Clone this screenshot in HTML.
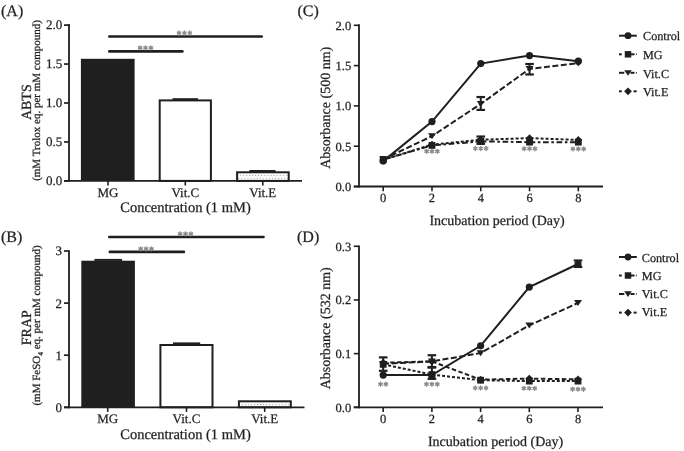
<!DOCTYPE html>
<html><head><meta charset="utf-8"><style>
html,body{margin:0;padding:0;background:#fff;}
svg{display:block;will-change:transform;}
text{font-family:"Liberation Serif",serif;stroke:#1f1f1f;stroke-width:0.25px;paint-order:stroke;text-rendering:geometricPrecision;}
</style></head><body>
<svg width="684" height="451" viewBox="0 0 684 451">
<defs><pattern id="dots0" x="239.8" y="174.9" width="3.07" height="6.2" patternUnits="userSpaceOnUse"><rect width="3.07" height="6.2" fill="#fff"/><rect x="0" y="0" width="1" height="1" fill="#8c8c8c"/><rect x="1.53" y="3.1" width="1" height="1" fill="#8c8c8c"/></pattern><pattern id="dots1" x="241.7" y="398.0" width="3.07" height="6.2" patternUnits="userSpaceOnUse"><rect width="3.07" height="6.2" fill="#fff"/><rect x="0" y="0" width="1" height="1" fill="#8c8c8c"/><rect x="1.53" y="3.1" width="1" height="1" fill="#8c8c8c"/></pattern></defs>
<rect width="684" height="451" fill="#fff"/>
<line x1="64.00" y1="180.90" x2="69.00" y2="180.90" stroke="#1f1f1f" stroke-width="1.7" stroke-linecap="butt"/>
<text x="62.30" y="184.70" font-size="13" text-anchor="end" fill="#1f1f1f">0.0</text>
<line x1="64.00" y1="141.95" x2="69.00" y2="141.95" stroke="#1f1f1f" stroke-width="1.7" stroke-linecap="butt"/>
<text x="62.30" y="145.75" font-size="13" text-anchor="end" fill="#1f1f1f">0.5</text>
<line x1="64.00" y1="103.00" x2="69.00" y2="103.00" stroke="#1f1f1f" stroke-width="1.7" stroke-linecap="butt"/>
<text x="62.30" y="106.80" font-size="13" text-anchor="end" fill="#1f1f1f">1.0</text>
<line x1="64.00" y1="64.05" x2="69.00" y2="64.05" stroke="#1f1f1f" stroke-width="1.7" stroke-linecap="butt"/>
<text x="62.30" y="67.85" font-size="13" text-anchor="end" fill="#1f1f1f">1.5</text>
<line x1="64.00" y1="25.10" x2="69.00" y2="25.10" stroke="#1f1f1f" stroke-width="1.7" stroke-linecap="butt"/>
<text x="62.30" y="28.90" font-size="13" text-anchor="end" fill="#1f1f1f">2.0</text>
<rect x="80.90" y="58.80" width="53.70" height="122.10" fill="#1f1f1f"/>
<rect x="159.70" y="100.40" width="51.20" height="80.50" fill="#fff" stroke="#1f1f1f" stroke-width="2"/>
<line x1="172.50" y1="99.20" x2="198.00" y2="99.20" stroke="#1f1f1f" stroke-width="2.0" stroke-linecap="butt"/>
<rect x="237.10" y="172.30" width="51.60" height="8.60" fill="url(#dots0)" stroke="#1f1f1f" stroke-width="2"/>
<line x1="249.40" y1="171.00" x2="275.50" y2="171.00" stroke="#1f1f1f" stroke-width="2.0" stroke-linecap="butt"/>
<line x1="69.00" y1="24.00" x2="69.00" y2="181.80" stroke="#1f1f1f" stroke-width="1.8" stroke-linecap="butt"/>
<line x1="64.00" y1="180.90" x2="302.00" y2="180.90" stroke="#1f1f1f" stroke-width="1.8" stroke-linecap="butt"/>
<line x1="108.00" y1="180.90" x2="108.00" y2="185.50" stroke="#1f1f1f" stroke-width="1.6" stroke-linecap="butt"/>
<text x="108.00" y="197.30" font-size="13" text-anchor="middle" fill="#1f1f1f">MG</text>
<line x1="185.30" y1="180.90" x2="185.30" y2="185.50" stroke="#1f1f1f" stroke-width="1.6" stroke-linecap="butt"/>
<text x="185.30" y="197.30" font-size="13" text-anchor="middle" fill="#1f1f1f">Vit.C</text>
<line x1="262.80" y1="180.90" x2="262.80" y2="185.50" stroke="#1f1f1f" stroke-width="1.6" stroke-linecap="butt"/>
<text x="262.80" y="197.30" font-size="13" text-anchor="middle" fill="#1f1f1f">Vit.E</text>
<text x="185.50" y="212.30" font-size="14.5" text-anchor="middle" fill="#1f1f1f">Concentration (1 mM)</text>
<line x1="109.30" y1="36.50" x2="261.70" y2="36.50" stroke="#1f1f1f" stroke-width="2.6" stroke-linecap="round"/>
<line x1="179.00" y1="31.00" x2="179.00" y2="35.00" stroke="#8a8a8a" stroke-width="1.35" stroke-linecap="round"/>
<line x1="177.27" y1="32.00" x2="180.73" y2="34.00" stroke="#8a8a8a" stroke-width="1.35" stroke-linecap="round"/>
<line x1="177.27" y1="34.00" x2="180.73" y2="32.00" stroke="#8a8a8a" stroke-width="1.35" stroke-linecap="round"/>
<line x1="184.40" y1="31.00" x2="184.40" y2="35.00" stroke="#8a8a8a" stroke-width="1.35" stroke-linecap="round"/>
<line x1="182.67" y1="32.00" x2="186.13" y2="34.00" stroke="#8a8a8a" stroke-width="1.35" stroke-linecap="round"/>
<line x1="182.67" y1="34.00" x2="186.13" y2="32.00" stroke="#8a8a8a" stroke-width="1.35" stroke-linecap="round"/>
<line x1="189.80" y1="31.00" x2="189.80" y2="35.00" stroke="#8a8a8a" stroke-width="1.35" stroke-linecap="round"/>
<line x1="188.07" y1="32.00" x2="191.53" y2="34.00" stroke="#8a8a8a" stroke-width="1.35" stroke-linecap="round"/>
<line x1="188.07" y1="34.00" x2="191.53" y2="32.00" stroke="#8a8a8a" stroke-width="1.35" stroke-linecap="round"/>
<line x1="109.30" y1="51.40" x2="182.40" y2="51.40" stroke="#1f1f1f" stroke-width="2.6" stroke-linecap="round"/>
<line x1="140.10" y1="45.80" x2="140.10" y2="49.80" stroke="#8a8a8a" stroke-width="1.35" stroke-linecap="round"/>
<line x1="138.37" y1="46.80" x2="141.83" y2="48.80" stroke="#8a8a8a" stroke-width="1.35" stroke-linecap="round"/>
<line x1="138.37" y1="48.80" x2="141.83" y2="46.80" stroke="#8a8a8a" stroke-width="1.35" stroke-linecap="round"/>
<line x1="145.50" y1="45.80" x2="145.50" y2="49.80" stroke="#8a8a8a" stroke-width="1.35" stroke-linecap="round"/>
<line x1="143.77" y1="46.80" x2="147.23" y2="48.80" stroke="#8a8a8a" stroke-width="1.35" stroke-linecap="round"/>
<line x1="143.77" y1="48.80" x2="147.23" y2="46.80" stroke="#8a8a8a" stroke-width="1.35" stroke-linecap="round"/>
<line x1="150.90" y1="45.80" x2="150.90" y2="49.80" stroke="#8a8a8a" stroke-width="1.35" stroke-linecap="round"/>
<line x1="149.17" y1="46.80" x2="152.63" y2="48.80" stroke="#8a8a8a" stroke-width="1.35" stroke-linecap="round"/>
<line x1="149.17" y1="48.80" x2="152.63" y2="46.80" stroke="#8a8a8a" stroke-width="1.35" stroke-linecap="round"/>
<text x="1.00" y="15.50" font-size="16" text-anchor="start" fill="#1f1f1f">(A)</text>
<text x="31.50" y="102.20" font-size="14" text-anchor="middle" fill="#1f1f1f" transform="rotate(-90 31.50 102.20)">ABTS</text>
<text x="40.20" y="100.50" font-size="11" text-anchor="middle" fill="#1f1f1f" transform="rotate(-90 40.20 100.50)">(mM Trolox eq. per mM compound)</text>
<line x1="64.00" y1="407.30" x2="69.00" y2="407.30" stroke="#1f1f1f" stroke-width="1.7" stroke-linecap="butt"/>
<text x="62.00" y="411.70" font-size="13" text-anchor="end" fill="#1f1f1f">0</text>
<line x1="64.00" y1="355.20" x2="69.00" y2="355.20" stroke="#1f1f1f" stroke-width="1.7" stroke-linecap="butt"/>
<text x="62.00" y="359.60" font-size="13" text-anchor="end" fill="#1f1f1f">1</text>
<line x1="64.00" y1="303.10" x2="69.00" y2="303.10" stroke="#1f1f1f" stroke-width="1.7" stroke-linecap="butt"/>
<text x="62.00" y="307.50" font-size="13" text-anchor="end" fill="#1f1f1f">2</text>
<line x1="64.00" y1="251.00" x2="69.00" y2="251.00" stroke="#1f1f1f" stroke-width="1.7" stroke-linecap="butt"/>
<text x="62.00" y="255.40" font-size="13" text-anchor="end" fill="#1f1f1f">3</text>
<rect x="81.30" y="260.70" width="53.60" height="146.60" fill="#1f1f1f"/>
<line x1="94.40" y1="259.90" x2="122.10" y2="259.90" stroke="#1f1f1f" stroke-width="2.0" stroke-linecap="butt"/>
<rect x="160.40" y="345.00" width="52.10" height="62.30" fill="#fff" stroke="#1f1f1f" stroke-width="2"/>
<line x1="173.00" y1="343.40" x2="200.20" y2="343.40" stroke="#1f1f1f" stroke-width="2.0" stroke-linecap="butt"/>
<rect x="238.90" y="401.30" width="51.90" height="6.00" fill="url(#dots1)" stroke="#1f1f1f" stroke-width="2"/>
<line x1="69.00" y1="250.20" x2="69.00" y2="408.20" stroke="#1f1f1f" stroke-width="1.8" stroke-linecap="butt"/>
<line x1="64.00" y1="407.30" x2="304.50" y2="407.30" stroke="#1f1f1f" stroke-width="1.8" stroke-linecap="butt"/>
<line x1="107.70" y1="407.30" x2="107.70" y2="411.90" stroke="#1f1f1f" stroke-width="1.6" stroke-linecap="butt"/>
<text x="107.70" y="422.50" font-size="13" text-anchor="middle" fill="#1f1f1f">MG</text>
<line x1="186.50" y1="407.30" x2="186.50" y2="411.90" stroke="#1f1f1f" stroke-width="1.6" stroke-linecap="butt"/>
<text x="186.50" y="422.50" font-size="13" text-anchor="middle" fill="#1f1f1f">Vit.C</text>
<line x1="264.70" y1="407.30" x2="264.70" y2="411.90" stroke="#1f1f1f" stroke-width="1.6" stroke-linecap="butt"/>
<text x="264.70" y="422.50" font-size="13" text-anchor="middle" fill="#1f1f1f">Vit.E</text>
<text x="185.50" y="438.60" font-size="14.5" text-anchor="middle" fill="#1f1f1f">Concentration (1 mM)</text>
<line x1="109.30" y1="237.00" x2="263.50" y2="237.00" stroke="#1f1f1f" stroke-width="2.6" stroke-linecap="round"/>
<line x1="180.10" y1="231.80" x2="180.10" y2="235.80" stroke="#8a8a8a" stroke-width="1.35" stroke-linecap="round"/>
<line x1="178.37" y1="232.80" x2="181.83" y2="234.80" stroke="#8a8a8a" stroke-width="1.35" stroke-linecap="round"/>
<line x1="178.37" y1="234.80" x2="181.83" y2="232.80" stroke="#8a8a8a" stroke-width="1.35" stroke-linecap="round"/>
<line x1="185.50" y1="231.80" x2="185.50" y2="235.80" stroke="#8a8a8a" stroke-width="1.35" stroke-linecap="round"/>
<line x1="183.77" y1="232.80" x2="187.23" y2="234.80" stroke="#8a8a8a" stroke-width="1.35" stroke-linecap="round"/>
<line x1="183.77" y1="234.80" x2="187.23" y2="232.80" stroke="#8a8a8a" stroke-width="1.35" stroke-linecap="round"/>
<line x1="190.90" y1="231.80" x2="190.90" y2="235.80" stroke="#8a8a8a" stroke-width="1.35" stroke-linecap="round"/>
<line x1="189.17" y1="232.80" x2="192.63" y2="234.80" stroke="#8a8a8a" stroke-width="1.35" stroke-linecap="round"/>
<line x1="189.17" y1="234.80" x2="192.63" y2="232.80" stroke="#8a8a8a" stroke-width="1.35" stroke-linecap="round"/>
<line x1="109.80" y1="251.90" x2="183.90" y2="251.90" stroke="#1f1f1f" stroke-width="2.6" stroke-linecap="round"/>
<line x1="140.70" y1="246.80" x2="140.70" y2="250.80" stroke="#8a8a8a" stroke-width="1.35" stroke-linecap="round"/>
<line x1="138.97" y1="247.80" x2="142.43" y2="249.80" stroke="#8a8a8a" stroke-width="1.35" stroke-linecap="round"/>
<line x1="138.97" y1="249.80" x2="142.43" y2="247.80" stroke="#8a8a8a" stroke-width="1.35" stroke-linecap="round"/>
<line x1="146.10" y1="246.80" x2="146.10" y2="250.80" stroke="#8a8a8a" stroke-width="1.35" stroke-linecap="round"/>
<line x1="144.37" y1="247.80" x2="147.83" y2="249.80" stroke="#8a8a8a" stroke-width="1.35" stroke-linecap="round"/>
<line x1="144.37" y1="249.80" x2="147.83" y2="247.80" stroke="#8a8a8a" stroke-width="1.35" stroke-linecap="round"/>
<line x1="151.50" y1="246.80" x2="151.50" y2="250.80" stroke="#8a8a8a" stroke-width="1.35" stroke-linecap="round"/>
<line x1="149.77" y1="247.80" x2="153.23" y2="249.80" stroke="#8a8a8a" stroke-width="1.35" stroke-linecap="round"/>
<line x1="149.77" y1="249.80" x2="153.23" y2="247.80" stroke="#8a8a8a" stroke-width="1.35" stroke-linecap="round"/>
<text x="1.00" y="241.60" font-size="16" text-anchor="start" fill="#1f1f1f">(B)</text>
<text x="31.50" y="327.70" font-size="14" text-anchor="middle" fill="#1f1f1f" transform="rotate(-90 31.50 327.70)">FRAP</text>
<text x="40.20" y="325.50" font-size="11" text-anchor="middle" fill="#1f1f1f" transform="rotate(-90 40.20 325.50)">(mM FeSO<tspan font-size="7.5" dy="2.5">4</tspan><tspan dy="-2.5"> eq. per mM compound)</tspan></text>
<line x1="353.80" y1="186.50" x2="359.00" y2="186.50" stroke="#1f1f1f" stroke-width="1.6" stroke-linecap="butt"/>
<text x="351.20" y="190.90" font-size="12.5" text-anchor="end" fill="#1f1f1f">0.0</text>
<line x1="353.80" y1="146.20" x2="359.00" y2="146.20" stroke="#1f1f1f" stroke-width="1.6" stroke-linecap="butt"/>
<text x="351.20" y="150.60" font-size="12.5" text-anchor="end" fill="#1f1f1f">0.5</text>
<line x1="353.80" y1="105.90" x2="359.00" y2="105.90" stroke="#1f1f1f" stroke-width="1.6" stroke-linecap="butt"/>
<text x="351.20" y="110.30" font-size="12.5" text-anchor="end" fill="#1f1f1f">1.0</text>
<line x1="353.80" y1="65.60" x2="359.00" y2="65.60" stroke="#1f1f1f" stroke-width="1.6" stroke-linecap="butt"/>
<text x="351.20" y="70.00" font-size="12.5" text-anchor="end" fill="#1f1f1f">1.5</text>
<line x1="353.80" y1="25.30" x2="359.00" y2="25.30" stroke="#1f1f1f" stroke-width="1.6" stroke-linecap="butt"/>
<text x="351.20" y="29.70" font-size="12.5" text-anchor="end" fill="#1f1f1f">2.0</text>
<polyline points="383.20,161.11 431.98,121.62 480.76,63.59 529.54,55.53 578.32,61.17" fill="none" stroke="#1f1f1f" stroke-width="2"/>
<polyline points="383.20,159.50 431.98,145.39 480.76,141.36 529.54,142.17 578.32,142.17" fill="none" stroke="#1f1f1f" stroke-width="2" stroke-dasharray="5.7 2.6 2.6 2.6"/>
<polyline points="383.20,159.26 431.98,136.12 480.76,103.89 529.54,68.82 578.32,63.18" fill="none" stroke="#1f1f1f" stroke-width="2" stroke-dasharray="6 2.5"/>
<polyline points="383.20,159.90 431.98,144.59 480.76,139.75 529.54,138.14 578.32,139.91" fill="none" stroke="#1f1f1f" stroke-width="2" stroke-dasharray="3 2"/>
<line x1="480.76" y1="97.03" x2="480.76" y2="109.93" stroke="#1f1f1f" stroke-width="2.0" stroke-linecap="butt"/>
<line x1="476.46" y1="97.03" x2="485.06" y2="97.03" stroke="#1f1f1f" stroke-width="2.2" stroke-linecap="butt"/>
<line x1="476.46" y1="109.93" x2="485.06" y2="109.93" stroke="#1f1f1f" stroke-width="2.2" stroke-linecap="butt"/>
<line x1="529.54" y1="63.99" x2="529.54" y2="74.47" stroke="#1f1f1f" stroke-width="2.0" stroke-linecap="butt"/>
<line x1="525.24" y1="63.99" x2="533.84" y2="63.99" stroke="#1f1f1f" stroke-width="2.2" stroke-linecap="butt"/>
<line x1="525.24" y1="74.47" x2="533.84" y2="74.47" stroke="#1f1f1f" stroke-width="2.2" stroke-linecap="butt"/>
<line x1="480.76" y1="136.53" x2="480.76" y2="143.78" stroke="#1f1f1f" stroke-width="2.0" stroke-linecap="butt"/>
<line x1="476.46" y1="136.53" x2="485.06" y2="136.53" stroke="#1f1f1f" stroke-width="2.2" stroke-linecap="butt"/>
<line x1="476.46" y1="143.78" x2="485.06" y2="143.78" stroke="#1f1f1f" stroke-width="2.2" stroke-linecap="butt"/>
<circle cx="383.20" cy="161.11" r="3.60" fill="#1f1f1f"/>
<circle cx="431.98" cy="121.62" r="3.60" fill="#1f1f1f"/>
<circle cx="480.76" cy="63.59" r="3.60" fill="#1f1f1f"/>
<circle cx="529.54" cy="55.53" r="3.60" fill="#1f1f1f"/>
<circle cx="578.32" cy="61.17" r="3.60" fill="#1f1f1f"/>
<rect x="379.80" y="156.10" width="6.80" height="6.80" fill="#1f1f1f"/>
<rect x="428.58" y="141.99" width="6.80" height="6.80" fill="#1f1f1f"/>
<rect x="477.36" y="137.96" width="6.80" height="6.80" fill="#1f1f1f"/>
<rect x="526.14" y="138.77" width="6.80" height="6.80" fill="#1f1f1f"/>
<rect x="574.92" y="138.77" width="6.80" height="6.80" fill="#1f1f1f"/>
<path d="M379.20,156.46 L387.20,156.46 L383.20,162.46 Z" fill="#1f1f1f"/>
<path d="M427.98,133.32 L435.98,133.32 L431.98,139.32 Z" fill="#1f1f1f"/>
<path d="M476.76,101.09 L484.76,101.09 L480.76,107.09 Z" fill="#1f1f1f"/>
<path d="M525.54,66.02 L533.54,66.02 L529.54,72.02 Z" fill="#1f1f1f"/>
<path d="M574.32,60.38 L582.32,60.38 L578.32,66.38 Z" fill="#1f1f1f"/>
<path d="M383.20,156.00 L387.10,159.90 L383.20,163.80 L379.30,159.90 Z" fill="#1f1f1f"/>
<path d="M431.98,140.69 L435.88,144.59 L431.98,148.49 L428.08,144.59 Z" fill="#1f1f1f"/>
<path d="M480.76,135.85 L484.66,139.75 L480.76,143.65 L476.86,139.75 Z" fill="#1f1f1f"/>
<path d="M529.54,134.24 L533.44,138.14 L529.54,142.04 L525.64,138.14 Z" fill="#1f1f1f"/>
<path d="M578.32,136.01 L582.22,139.91 L578.32,143.81 L574.42,139.91 Z" fill="#1f1f1f"/>
<line x1="359.00" y1="24.20" x2="359.00" y2="187.40" stroke="#1f1f1f" stroke-width="1.8" stroke-linecap="butt"/>
<line x1="353.80" y1="186.50" x2="603.00" y2="186.50" stroke="#1f1f1f" stroke-width="1.8" stroke-linecap="butt"/>
<line x1="383.20" y1="186.50" x2="383.20" y2="191.30" stroke="#1f1f1f" stroke-width="1.6" stroke-linecap="butt"/>
<text x="383.20" y="201.80" font-size="12.5" text-anchor="middle" fill="#1f1f1f">0</text>
<line x1="431.98" y1="186.50" x2="431.98" y2="191.30" stroke="#1f1f1f" stroke-width="1.6" stroke-linecap="butt"/>
<text x="431.98" y="201.80" font-size="12.5" text-anchor="middle" fill="#1f1f1f">2</text>
<line x1="480.76" y1="186.50" x2="480.76" y2="191.30" stroke="#1f1f1f" stroke-width="1.6" stroke-linecap="butt"/>
<text x="480.76" y="201.80" font-size="12.5" text-anchor="middle" fill="#1f1f1f">4</text>
<line x1="529.54" y1="186.50" x2="529.54" y2="191.30" stroke="#1f1f1f" stroke-width="1.6" stroke-linecap="butt"/>
<text x="529.54" y="201.80" font-size="12.5" text-anchor="middle" fill="#1f1f1f">6</text>
<line x1="578.32" y1="186.50" x2="578.32" y2="191.30" stroke="#1f1f1f" stroke-width="1.6" stroke-linecap="butt"/>
<text x="578.32" y="201.80" font-size="12.5" text-anchor="middle" fill="#1f1f1f">8</text>
<text x="497.10" y="224.90" font-size="14" text-anchor="middle" fill="#1f1f1f">Incubation period (Day)</text>
<text x="330.00" y="107.80" font-size="14" text-anchor="middle" fill="#1f1f1f" transform="rotate(-90 330.00 107.80)">Absorbance (500 nm)</text>
<text x="297.50" y="15.50" font-size="16" text-anchor="start" fill="#1f1f1f">(C)</text>
<line x1="426.58" y1="149.30" x2="426.58" y2="153.30" stroke="#8a8a8a" stroke-width="1.35" stroke-linecap="round"/>
<line x1="424.85" y1="150.30" x2="428.31" y2="152.30" stroke="#8a8a8a" stroke-width="1.35" stroke-linecap="round"/>
<line x1="424.85" y1="152.30" x2="428.31" y2="150.30" stroke="#8a8a8a" stroke-width="1.35" stroke-linecap="round"/>
<line x1="431.98" y1="149.30" x2="431.98" y2="153.30" stroke="#8a8a8a" stroke-width="1.35" stroke-linecap="round"/>
<line x1="430.25" y1="150.30" x2="433.71" y2="152.30" stroke="#8a8a8a" stroke-width="1.35" stroke-linecap="round"/>
<line x1="430.25" y1="152.30" x2="433.71" y2="150.30" stroke="#8a8a8a" stroke-width="1.35" stroke-linecap="round"/>
<line x1="437.38" y1="149.30" x2="437.38" y2="153.30" stroke="#8a8a8a" stroke-width="1.35" stroke-linecap="round"/>
<line x1="435.65" y1="150.30" x2="439.11" y2="152.30" stroke="#8a8a8a" stroke-width="1.35" stroke-linecap="round"/>
<line x1="435.65" y1="152.30" x2="439.11" y2="150.30" stroke="#8a8a8a" stroke-width="1.35" stroke-linecap="round"/>
<line x1="475.36" y1="146.50" x2="475.36" y2="150.50" stroke="#8a8a8a" stroke-width="1.35" stroke-linecap="round"/>
<line x1="473.63" y1="147.50" x2="477.09" y2="149.50" stroke="#8a8a8a" stroke-width="1.35" stroke-linecap="round"/>
<line x1="473.63" y1="149.50" x2="477.09" y2="147.50" stroke="#8a8a8a" stroke-width="1.35" stroke-linecap="round"/>
<line x1="480.76" y1="146.50" x2="480.76" y2="150.50" stroke="#8a8a8a" stroke-width="1.35" stroke-linecap="round"/>
<line x1="479.03" y1="147.50" x2="482.49" y2="149.50" stroke="#8a8a8a" stroke-width="1.35" stroke-linecap="round"/>
<line x1="479.03" y1="149.50" x2="482.49" y2="147.50" stroke="#8a8a8a" stroke-width="1.35" stroke-linecap="round"/>
<line x1="486.16" y1="146.50" x2="486.16" y2="150.50" stroke="#8a8a8a" stroke-width="1.35" stroke-linecap="round"/>
<line x1="484.43" y1="147.50" x2="487.89" y2="149.50" stroke="#8a8a8a" stroke-width="1.35" stroke-linecap="round"/>
<line x1="484.43" y1="149.50" x2="487.89" y2="147.50" stroke="#8a8a8a" stroke-width="1.35" stroke-linecap="round"/>
<line x1="524.14" y1="146.70" x2="524.14" y2="150.70" stroke="#8a8a8a" stroke-width="1.35" stroke-linecap="round"/>
<line x1="522.41" y1="147.70" x2="525.87" y2="149.70" stroke="#8a8a8a" stroke-width="1.35" stroke-linecap="round"/>
<line x1="522.41" y1="149.70" x2="525.87" y2="147.70" stroke="#8a8a8a" stroke-width="1.35" stroke-linecap="round"/>
<line x1="529.54" y1="146.70" x2="529.54" y2="150.70" stroke="#8a8a8a" stroke-width="1.35" stroke-linecap="round"/>
<line x1="527.81" y1="147.70" x2="531.27" y2="149.70" stroke="#8a8a8a" stroke-width="1.35" stroke-linecap="round"/>
<line x1="527.81" y1="149.70" x2="531.27" y2="147.70" stroke="#8a8a8a" stroke-width="1.35" stroke-linecap="round"/>
<line x1="534.94" y1="146.70" x2="534.94" y2="150.70" stroke="#8a8a8a" stroke-width="1.35" stroke-linecap="round"/>
<line x1="533.21" y1="147.70" x2="536.67" y2="149.70" stroke="#8a8a8a" stroke-width="1.35" stroke-linecap="round"/>
<line x1="533.21" y1="149.70" x2="536.67" y2="147.70" stroke="#8a8a8a" stroke-width="1.35" stroke-linecap="round"/>
<line x1="572.92" y1="146.90" x2="572.92" y2="150.90" stroke="#8a8a8a" stroke-width="1.35" stroke-linecap="round"/>
<line x1="571.19" y1="147.90" x2="574.65" y2="149.90" stroke="#8a8a8a" stroke-width="1.35" stroke-linecap="round"/>
<line x1="571.19" y1="149.90" x2="574.65" y2="147.90" stroke="#8a8a8a" stroke-width="1.35" stroke-linecap="round"/>
<line x1="578.32" y1="146.90" x2="578.32" y2="150.90" stroke="#8a8a8a" stroke-width="1.35" stroke-linecap="round"/>
<line x1="576.59" y1="147.90" x2="580.05" y2="149.90" stroke="#8a8a8a" stroke-width="1.35" stroke-linecap="round"/>
<line x1="576.59" y1="149.90" x2="580.05" y2="147.90" stroke="#8a8a8a" stroke-width="1.35" stroke-linecap="round"/>
<line x1="583.72" y1="146.90" x2="583.72" y2="150.90" stroke="#8a8a8a" stroke-width="1.35" stroke-linecap="round"/>
<line x1="581.99" y1="147.90" x2="585.45" y2="149.90" stroke="#8a8a8a" stroke-width="1.35" stroke-linecap="round"/>
<line x1="581.99" y1="149.90" x2="585.45" y2="147.90" stroke="#8a8a8a" stroke-width="1.35" stroke-linecap="round"/>
<line x1="619.00" y1="35.70" x2="636.80" y2="35.70" stroke="#1f1f1f" stroke-width="2.0" stroke-linecap="butt"/>
<circle cx="628.00" cy="35.70" r="3.42" fill="#1f1f1f"/>
<text x="643.00" y="40.40" font-size="12.2" text-anchor="start" fill="#1f1f1f">Control</text>
<line x1="619.00" y1="54.30" x2="621.80" y2="54.30" stroke="#1f1f1f" stroke-width="2.0" stroke-linecap="butt"/>
<line x1="630.50" y1="54.30" x2="634.50" y2="54.30" stroke="#1f1f1f" stroke-width="2.0" stroke-linecap="butt"/>
<line x1="635.90" y1="54.30" x2="636.80" y2="54.30" stroke="#1f1f1f" stroke-width="1.4" stroke-linecap="butt"/>
<rect x="624.77" y="51.07" width="6.46" height="6.46" fill="#1f1f1f"/>
<text x="643.00" y="59.10" font-size="12.2" text-anchor="start" fill="#1f1f1f">MG</text>
<line x1="619.00" y1="72.80" x2="624.30" y2="72.80" stroke="#1f1f1f" stroke-width="2.0" stroke-linecap="butt"/>
<line x1="630.50" y1="72.80" x2="634.50" y2="72.80" stroke="#1f1f1f" stroke-width="2.0" stroke-linecap="butt"/>
<line x1="635.90" y1="72.80" x2="636.80" y2="72.80" stroke="#1f1f1f" stroke-width="1.6" stroke-linecap="butt"/>
<path d="M624.20,70.14 L631.80,70.14 L628.00,75.84 Z" fill="#1f1f1f"/>
<text x="643.00" y="77.80" font-size="12.2" text-anchor="start" fill="#1f1f1f">Vit.C</text>
<line x1="619.00" y1="91.30" x2="621.80" y2="91.30" stroke="#1f1f1f" stroke-width="2.0" stroke-linecap="butt"/>
<line x1="633.60" y1="91.30" x2="636.60" y2="91.30" stroke="#1f1f1f" stroke-width="2.0" stroke-linecap="butt"/>
<path d="M628.00,87.40 L631.90,91.30 L628.00,95.20 L624.10,91.30 Z" fill="#1f1f1f"/>
<text x="643.00" y="96.30" font-size="12.2" text-anchor="start" fill="#1f1f1f">Vit.E</text>
<line x1="353.80" y1="407.30" x2="359.00" y2="407.30" stroke="#1f1f1f" stroke-width="1.6" stroke-linecap="butt"/>
<text x="351.20" y="411.70" font-size="12.5" text-anchor="end" fill="#1f1f1f">0.0</text>
<line x1="353.80" y1="353.63" x2="359.00" y2="353.63" stroke="#1f1f1f" stroke-width="1.6" stroke-linecap="butt"/>
<text x="351.20" y="358.03" font-size="12.5" text-anchor="end" fill="#1f1f1f">0.1</text>
<line x1="353.80" y1="299.96" x2="359.00" y2="299.96" stroke="#1f1f1f" stroke-width="1.6" stroke-linecap="butt"/>
<text x="351.20" y="304.36" font-size="12.5" text-anchor="end" fill="#1f1f1f">0.2</text>
<line x1="353.80" y1="246.29" x2="359.00" y2="246.29" stroke="#1f1f1f" stroke-width="1.6" stroke-linecap="butt"/>
<text x="351.20" y="250.69" font-size="12.5" text-anchor="end" fill="#1f1f1f">0.3</text>
<polyline points="383.20,375.10 431.90,375.10 480.60,345.79 529.30,287.08 578.00,264.00" fill="none" stroke="#1f1f1f" stroke-width="2"/>
<polyline points="383.20,364.36 431.90,374.56 480.60,380.20 529.30,381.11 578.00,381.11" fill="none" stroke="#1f1f1f" stroke-width="2" stroke-dasharray="3 2"/>
<polyline points="383.20,363.83 431.90,361.41 480.60,353.09 529.30,325.40 578.00,302.91" fill="none" stroke="#1f1f1f" stroke-width="2" stroke-dasharray="6 2.5"/>
<polyline points="383.20,362.75 431.90,361.41 480.60,379.66 529.30,378.59 578.00,379.39" fill="none" stroke="#1f1f1f" stroke-width="2" stroke-dasharray="4.5 2.5"/>
<line x1="383.20" y1="357.39" x2="383.20" y2="370.80" stroke="#1f1f1f" stroke-width="2.0" stroke-linecap="butt"/>
<line x1="378.90" y1="357.39" x2="387.50" y2="357.39" stroke="#1f1f1f" stroke-width="2.2" stroke-linecap="butt"/>
<line x1="378.90" y1="370.80" x2="387.50" y2="370.80" stroke="#1f1f1f" stroke-width="2.2" stroke-linecap="butt"/>
<line x1="431.90" y1="355.24" x2="431.90" y2="367.05" stroke="#1f1f1f" stroke-width="2.0" stroke-linecap="butt"/>
<line x1="427.60" y1="355.24" x2="436.20" y2="355.24" stroke="#1f1f1f" stroke-width="2.2" stroke-linecap="butt"/>
<line x1="427.60" y1="367.05" x2="436.20" y2="367.05" stroke="#1f1f1f" stroke-width="2.2" stroke-linecap="butt"/>
<line x1="431.90" y1="367.58" x2="431.90" y2="378.85" stroke="#1f1f1f" stroke-width="2.0" stroke-linecap="butt"/>
<line x1="427.60" y1="367.58" x2="436.20" y2="367.58" stroke="#1f1f1f" stroke-width="2.2" stroke-linecap="butt"/>
<line x1="427.60" y1="378.85" x2="436.20" y2="378.85" stroke="#1f1f1f" stroke-width="2.2" stroke-linecap="butt"/>
<line x1="578.00" y1="260.51" x2="578.00" y2="266.95" stroke="#1f1f1f" stroke-width="2.0" stroke-linecap="butt"/>
<line x1="573.70" y1="260.51" x2="582.30" y2="260.51" stroke="#1f1f1f" stroke-width="2.2" stroke-linecap="butt"/>
<line x1="573.70" y1="266.95" x2="582.30" y2="266.95" stroke="#1f1f1f" stroke-width="2.2" stroke-linecap="butt"/>
<circle cx="383.20" cy="375.10" r="3.60" fill="#1f1f1f"/>
<circle cx="431.90" cy="375.10" r="3.60" fill="#1f1f1f"/>
<circle cx="480.60" cy="345.79" r="3.60" fill="#1f1f1f"/>
<circle cx="529.30" cy="287.08" r="3.60" fill="#1f1f1f"/>
<circle cx="578.00" cy="264.00" r="3.60" fill="#1f1f1f"/>
<rect x="379.80" y="360.96" width="6.80" height="6.80" fill="#1f1f1f"/>
<rect x="428.50" y="371.16" width="6.80" height="6.80" fill="#1f1f1f"/>
<rect x="477.20" y="376.80" width="6.80" height="6.80" fill="#1f1f1f"/>
<rect x="525.90" y="377.71" width="6.80" height="6.80" fill="#1f1f1f"/>
<rect x="574.60" y="377.71" width="6.80" height="6.80" fill="#1f1f1f"/>
<path d="M379.20,361.03 L387.20,361.03 L383.20,367.03 Z" fill="#1f1f1f"/>
<path d="M427.90,358.61 L435.90,358.61 L431.90,364.61 Z" fill="#1f1f1f"/>
<path d="M476.60,350.29 L484.60,350.29 L480.60,356.29 Z" fill="#1f1f1f"/>
<path d="M525.30,322.60 L533.30,322.60 L529.30,328.60 Z" fill="#1f1f1f"/>
<path d="M574.00,300.11 L582.00,300.11 L578.00,306.11 Z" fill="#1f1f1f"/>
<path d="M383.20,358.85 L387.10,362.75 L383.20,366.65 L379.30,362.75 Z" fill="#1f1f1f"/>
<path d="M431.90,357.51 L435.80,361.41 L431.90,365.31 L428.00,361.41 Z" fill="#1f1f1f"/>
<path d="M480.60,375.76 L484.50,379.66 L480.60,383.56 L476.70,379.66 Z" fill="#1f1f1f"/>
<path d="M529.30,374.69 L533.20,378.59 L529.30,382.49 L525.40,378.59 Z" fill="#1f1f1f"/>
<path d="M578.00,375.49 L581.90,379.39 L578.00,383.29 L574.10,379.39 Z" fill="#1f1f1f"/>
<line x1="359.00" y1="245.60" x2="359.00" y2="408.20" stroke="#1f1f1f" stroke-width="1.8" stroke-linecap="butt"/>
<line x1="353.80" y1="407.30" x2="603.00" y2="407.30" stroke="#1f1f1f" stroke-width="1.8" stroke-linecap="butt"/>
<line x1="383.20" y1="407.30" x2="383.20" y2="412.10" stroke="#1f1f1f" stroke-width="1.6" stroke-linecap="butt"/>
<text x="383.20" y="423.20" font-size="12.5" text-anchor="middle" fill="#1f1f1f">0</text>
<line x1="431.90" y1="407.30" x2="431.90" y2="412.10" stroke="#1f1f1f" stroke-width="1.6" stroke-linecap="butt"/>
<text x="431.90" y="423.20" font-size="12.5" text-anchor="middle" fill="#1f1f1f">2</text>
<line x1="480.60" y1="407.30" x2="480.60" y2="412.10" stroke="#1f1f1f" stroke-width="1.6" stroke-linecap="butt"/>
<text x="480.60" y="423.20" font-size="12.5" text-anchor="middle" fill="#1f1f1f">4</text>
<line x1="529.30" y1="407.30" x2="529.30" y2="412.10" stroke="#1f1f1f" stroke-width="1.6" stroke-linecap="butt"/>
<text x="529.30" y="423.20" font-size="12.5" text-anchor="middle" fill="#1f1f1f">6</text>
<line x1="578.00" y1="407.30" x2="578.00" y2="412.10" stroke="#1f1f1f" stroke-width="1.6" stroke-linecap="butt"/>
<text x="578.00" y="423.20" font-size="12.5" text-anchor="middle" fill="#1f1f1f">8</text>
<text x="495.60" y="445.90" font-size="14" text-anchor="middle" fill="#1f1f1f">Incubation period (Day)</text>
<text x="330.00" y="328.30" font-size="14" text-anchor="middle" fill="#1f1f1f" transform="rotate(-90 330.00 328.30)">Absorbance (532 nm)</text>
<text x="297.00" y="241.70" font-size="16" text-anchor="start" fill="#1f1f1f">(D)</text>
<line x1="380.50" y1="382.20" x2="380.50" y2="386.20" stroke="#8a8a8a" stroke-width="1.35" stroke-linecap="round"/>
<line x1="378.77" y1="383.20" x2="382.23" y2="385.20" stroke="#8a8a8a" stroke-width="1.35" stroke-linecap="round"/>
<line x1="378.77" y1="385.20" x2="382.23" y2="383.20" stroke="#8a8a8a" stroke-width="1.35" stroke-linecap="round"/>
<line x1="385.90" y1="382.20" x2="385.90" y2="386.20" stroke="#8a8a8a" stroke-width="1.35" stroke-linecap="round"/>
<line x1="384.17" y1="383.20" x2="387.63" y2="385.20" stroke="#8a8a8a" stroke-width="1.35" stroke-linecap="round"/>
<line x1="384.17" y1="385.20" x2="387.63" y2="383.20" stroke="#8a8a8a" stroke-width="1.35" stroke-linecap="round"/>
<line x1="426.50" y1="382.20" x2="426.50" y2="386.20" stroke="#8a8a8a" stroke-width="1.35" stroke-linecap="round"/>
<line x1="424.77" y1="383.20" x2="428.23" y2="385.20" stroke="#8a8a8a" stroke-width="1.35" stroke-linecap="round"/>
<line x1="424.77" y1="385.20" x2="428.23" y2="383.20" stroke="#8a8a8a" stroke-width="1.35" stroke-linecap="round"/>
<line x1="431.90" y1="382.20" x2="431.90" y2="386.20" stroke="#8a8a8a" stroke-width="1.35" stroke-linecap="round"/>
<line x1="430.17" y1="383.20" x2="433.63" y2="385.20" stroke="#8a8a8a" stroke-width="1.35" stroke-linecap="round"/>
<line x1="430.17" y1="385.20" x2="433.63" y2="383.20" stroke="#8a8a8a" stroke-width="1.35" stroke-linecap="round"/>
<line x1="437.30" y1="382.20" x2="437.30" y2="386.20" stroke="#8a8a8a" stroke-width="1.35" stroke-linecap="round"/>
<line x1="435.57" y1="383.20" x2="439.03" y2="385.20" stroke="#8a8a8a" stroke-width="1.35" stroke-linecap="round"/>
<line x1="435.57" y1="385.20" x2="439.03" y2="383.20" stroke="#8a8a8a" stroke-width="1.35" stroke-linecap="round"/>
<line x1="475.20" y1="386.00" x2="475.20" y2="390.00" stroke="#8a8a8a" stroke-width="1.35" stroke-linecap="round"/>
<line x1="473.47" y1="387.00" x2="476.93" y2="389.00" stroke="#8a8a8a" stroke-width="1.35" stroke-linecap="round"/>
<line x1="473.47" y1="389.00" x2="476.93" y2="387.00" stroke="#8a8a8a" stroke-width="1.35" stroke-linecap="round"/>
<line x1="480.60" y1="386.00" x2="480.60" y2="390.00" stroke="#8a8a8a" stroke-width="1.35" stroke-linecap="round"/>
<line x1="478.87" y1="387.00" x2="482.33" y2="389.00" stroke="#8a8a8a" stroke-width="1.35" stroke-linecap="round"/>
<line x1="478.87" y1="389.00" x2="482.33" y2="387.00" stroke="#8a8a8a" stroke-width="1.35" stroke-linecap="round"/>
<line x1="486.00" y1="386.00" x2="486.00" y2="390.00" stroke="#8a8a8a" stroke-width="1.35" stroke-linecap="round"/>
<line x1="484.27" y1="387.00" x2="487.73" y2="389.00" stroke="#8a8a8a" stroke-width="1.35" stroke-linecap="round"/>
<line x1="484.27" y1="389.00" x2="487.73" y2="387.00" stroke="#8a8a8a" stroke-width="1.35" stroke-linecap="round"/>
<line x1="523.90" y1="386.30" x2="523.90" y2="390.30" stroke="#8a8a8a" stroke-width="1.35" stroke-linecap="round"/>
<line x1="522.17" y1="387.30" x2="525.63" y2="389.30" stroke="#8a8a8a" stroke-width="1.35" stroke-linecap="round"/>
<line x1="522.17" y1="389.30" x2="525.63" y2="387.30" stroke="#8a8a8a" stroke-width="1.35" stroke-linecap="round"/>
<line x1="529.30" y1="386.30" x2="529.30" y2="390.30" stroke="#8a8a8a" stroke-width="1.35" stroke-linecap="round"/>
<line x1="527.57" y1="387.30" x2="531.03" y2="389.30" stroke="#8a8a8a" stroke-width="1.35" stroke-linecap="round"/>
<line x1="527.57" y1="389.30" x2="531.03" y2="387.30" stroke="#8a8a8a" stroke-width="1.35" stroke-linecap="round"/>
<line x1="534.70" y1="386.30" x2="534.70" y2="390.30" stroke="#8a8a8a" stroke-width="1.35" stroke-linecap="round"/>
<line x1="532.97" y1="387.30" x2="536.43" y2="389.30" stroke="#8a8a8a" stroke-width="1.35" stroke-linecap="round"/>
<line x1="532.97" y1="389.30" x2="536.43" y2="387.30" stroke="#8a8a8a" stroke-width="1.35" stroke-linecap="round"/>
<line x1="572.60" y1="387.20" x2="572.60" y2="391.20" stroke="#8a8a8a" stroke-width="1.35" stroke-linecap="round"/>
<line x1="570.87" y1="388.20" x2="574.33" y2="390.20" stroke="#8a8a8a" stroke-width="1.35" stroke-linecap="round"/>
<line x1="570.87" y1="390.20" x2="574.33" y2="388.20" stroke="#8a8a8a" stroke-width="1.35" stroke-linecap="round"/>
<line x1="578.00" y1="387.20" x2="578.00" y2="391.20" stroke="#8a8a8a" stroke-width="1.35" stroke-linecap="round"/>
<line x1="576.27" y1="388.20" x2="579.73" y2="390.20" stroke="#8a8a8a" stroke-width="1.35" stroke-linecap="round"/>
<line x1="576.27" y1="390.20" x2="579.73" y2="388.20" stroke="#8a8a8a" stroke-width="1.35" stroke-linecap="round"/>
<line x1="583.40" y1="387.20" x2="583.40" y2="391.20" stroke="#8a8a8a" stroke-width="1.35" stroke-linecap="round"/>
<line x1="581.67" y1="388.20" x2="585.13" y2="390.20" stroke="#8a8a8a" stroke-width="1.35" stroke-linecap="round"/>
<line x1="581.67" y1="390.20" x2="585.13" y2="388.20" stroke="#8a8a8a" stroke-width="1.35" stroke-linecap="round"/>
<line x1="619.00" y1="257.00" x2="636.80" y2="257.00" stroke="#1f1f1f" stroke-width="2.0" stroke-linecap="butt"/>
<circle cx="628.00" cy="257.00" r="3.42" fill="#1f1f1f"/>
<text x="641.80" y="261.60" font-size="12.2" text-anchor="start" fill="#1f1f1f">Control</text>
<line x1="619.00" y1="275.50" x2="621.80" y2="275.50" stroke="#1f1f1f" stroke-width="2.0" stroke-linecap="butt"/>
<line x1="630.50" y1="275.50" x2="634.50" y2="275.50" stroke="#1f1f1f" stroke-width="2.0" stroke-linecap="butt"/>
<line x1="635.90" y1="275.50" x2="636.80" y2="275.50" stroke="#1f1f1f" stroke-width="1.4" stroke-linecap="butt"/>
<rect x="624.77" y="272.27" width="6.46" height="6.46" fill="#1f1f1f"/>
<text x="641.80" y="279.90" font-size="12.2" text-anchor="start" fill="#1f1f1f">MG</text>
<line x1="619.00" y1="294.00" x2="624.30" y2="294.00" stroke="#1f1f1f" stroke-width="2.0" stroke-linecap="butt"/>
<line x1="630.50" y1="294.00" x2="634.50" y2="294.00" stroke="#1f1f1f" stroke-width="2.0" stroke-linecap="butt"/>
<line x1="635.90" y1="294.00" x2="636.80" y2="294.00" stroke="#1f1f1f" stroke-width="1.6" stroke-linecap="butt"/>
<path d="M624.20,291.34 L631.80,291.34 L628.00,297.04 Z" fill="#1f1f1f"/>
<text x="641.80" y="297.90" font-size="12.2" text-anchor="start" fill="#1f1f1f">Vit.C</text>
<line x1="619.00" y1="312.60" x2="621.80" y2="312.60" stroke="#1f1f1f" stroke-width="2.0" stroke-linecap="butt"/>
<line x1="633.60" y1="312.60" x2="636.60" y2="312.60" stroke="#1f1f1f" stroke-width="2.0" stroke-linecap="butt"/>
<path d="M628.00,308.70 L631.90,312.60 L628.00,316.50 L624.10,312.60 Z" fill="#1f1f1f"/>
<text x="641.80" y="316.30" font-size="12.2" text-anchor="start" fill="#1f1f1f">Vit.E</text>
</svg>
</body></html>
